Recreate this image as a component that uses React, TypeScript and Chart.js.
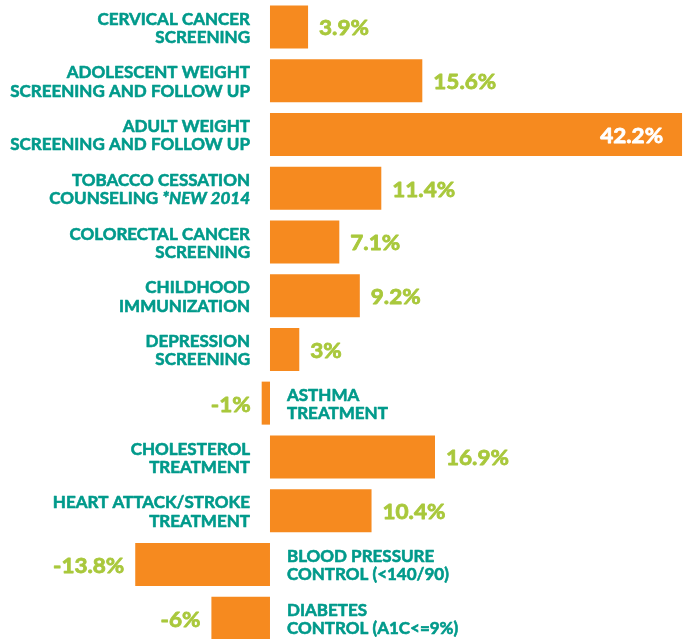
import React, { useEffect, useRef } from "react";
import { Chart, registerables } from "chart.js";

Chart.register(...registerables);

const categories: string[][] = [
  ["CERVICAL CANCER", "SCREENING"],
  ["ADOLESCENT WEIGHT", "SCREENING AND FOLLOW UP"],
  ["ADULT WEIGHT", "SCREENING AND FOLLOW UP"],
  ["TOBACCO CESSATION", "COUNSELING |*NEW 2014"],
  ["COLORECTAL CANCER", "SCREENING"],
  ["CHILDHOOD", "IMMUNIZATION"],
  ["DEPRESSION", "SCREENING"],
  ["ASTHMA", "TREATMENT"],
  ["CHOLESTEROL", "TREATMENT"],
  ["HEART ATTACK/STROKE", "TREATMENT"],
  ["BLOOD PRESSURE", "CONTROL (<140/90)"],
  ["DIABETES", "CONTROL (A1C<=9%)"],
];

const values: number[] = [3.9, 15.6, 42.2, 11.4, 7.1, 9.2, 3, -0.85, 16.9, 10.4, -13.8, -6];
const valueLabels: string[] = ["3.9%", "15.6%", "42.2%", "11.4%", "7.1%", "9.2%", "3%", "-1%", "16.9%", "10.4%", "-13.8%", "-6%"];

const ORANGE = "#f68a1f";
const TEAL = "#009a8b";
const GREEN = "#a9c83c";
const FONT = "Lato";

function drawText(
  ctx: CanvasRenderingContext2D,
  text: string,
  x: number,
  y: number,
  align: "left" | "right",
  font: string,
  color: string,
  sx: number,
  stroke: number
) {
  ctx.save();
  ctx.font = font;
  ctx.textBaseline = "alphabetic";
  const w = ctx.measureText(text).width * sx;
  const left = align === "left" ? x : x - w;
  ctx.translate(left, y);
  ctx.scale(sx, 1);
  ctx.fillStyle = color;
  ctx.textAlign = "left";
  ctx.fillText(text, 0, 0);
  if (stroke > 0) {
    ctx.strokeStyle = color;
    ctx.lineWidth = stroke;
    ctx.lineJoin = "round";
    ctx.strokeText(text, 0, 0);
  }
  ctx.restore();
  return w;
}

const labelPlugin = {
  id: "customLabels",
  afterDatasetsDraw(chart: any) {
    const ctx = chart.ctx as CanvasRenderingContext2D;
    const meta = chart.getDatasetMeta(0);
    const zeroX = chart.scales.x.getPixelForValue(0);
    const valFont = `700 21px ${FONT}`;
    const sxVal = 1.07;
    meta.data.forEach((bar: any, i: number) => {
      const v = values[i];
      const y = bar.y;
      // value label
      if (i === 2) {
        drawText(ctx, valueLabels[i], bar.x - 19, y + 8.5, "right", valFont, "#ffffff", sxVal, 0.8);
      } else if (v >= 0) {
        drawText(ctx, valueLabels[i], bar.x + 11, y + 8.5, "left", valFont, GREEN, sxVal, 0.8);
      } else {
        drawText(ctx, valueLabels[i], bar.x - 11, y + 8.5, "right", valFont, GREEN, sxVal, 0.8);
      }
      // category label
      const lines = categories[i];
      const lh = 18.3;
      const sxCat = 1.0;
      lines.forEach((line, li) => {
        const parts = line.split("|");
        const segs = parts.map((t, pi) => ({ t, font: `${pi > 0 ? "italic " : ""}700 17px ${FONT}` }));
        const widths = segs.map((s) => {
          ctx.font = s.font;
          return ctx.measureText(s.t).width * sxCat;
        });
        const total = widths.reduce((a, b) => a + b, 0);
        let x = v >= 0 ? zeroX - 20 - total : zeroX + 17;
        const ly = y - 2.2 + li * lh;
        segs.forEach((s, si) => {
          drawText(ctx, s.t, x, ly, "left", s.font, TEAL, sxCat, 0.6);
          x += widths[si];
        });
      });
    });
  },
};

export default function App() {
  const ref = useRef<HTMLCanvasElement>(null);
  useEffect(() => {
    if (!ref.current) return;
    const chart = new Chart(ref.current, {
      type: "bar",
      data: {
        labels: categories.map((c) => c.join(" ")),
        datasets: [
          {
            data: values,
            backgroundColor: ORANGE,
            borderWidth: 0,
            barPercentage: 1,
            categoryPercentage: 0.8,
          },
        ],
      },
      options: {
        indexAxis: "y",
        animation: false,
        responsive: false,
        maintainAspectRatio: false,
        layout: { padding: 0 },
        plugins: { legend: { display: false }, tooltip: { enabled: false } },
        scales: {
          x: { display: false, min: -27.65, max: 42.81, grid: { display: false } },
          y: { display: false, grid: { display: false } },
        },
      },
      plugins: [labelPlugin],
    });
    return () => chart.destroy();
  }, []);
  return (
    <div style={{ position: "fixed", left: 0, top: 0, width: 688, height: 645, background: "#fff" }}>
      <canvas ref={ref} width={688} height={645} style={{ display: "block" }} />
    </div>
  );
}
